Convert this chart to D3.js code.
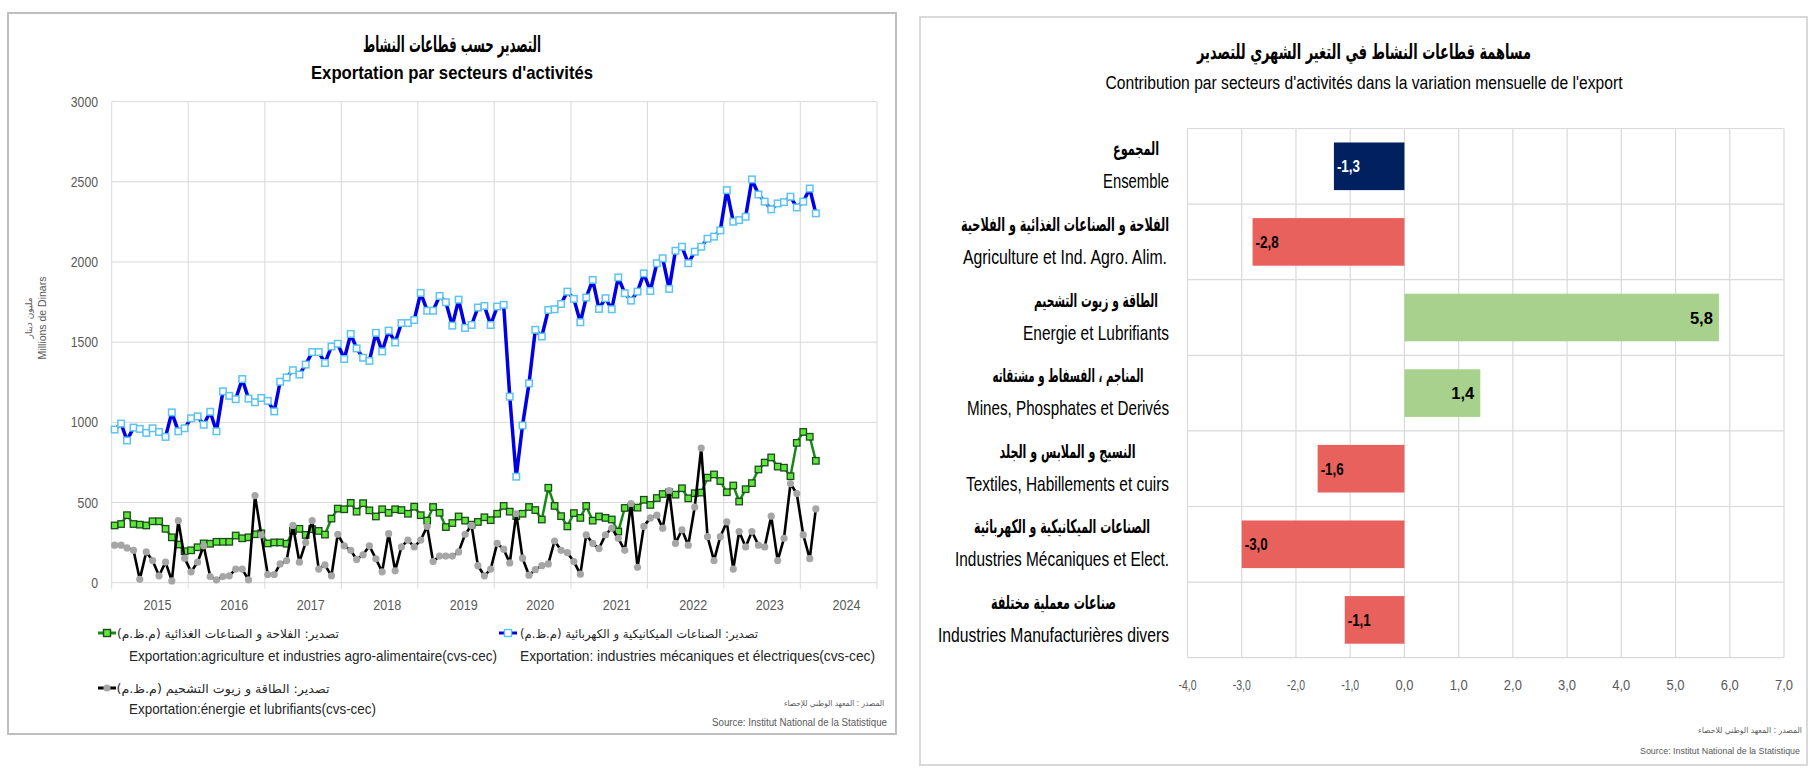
<!DOCTYPE html>
<html><head><meta charset="utf-8">
<script src="https://cdn.jsdelivr.net/npm/d3@7"></script>
<style>body{margin:0;background:#fff;} svg{display:block;}</style>
</head><body>
<svg id="c" width="1814" height="769"></svg>
<script>
// ---------------- DATA ----------------
// monthly categories: Jan 2015 .. Mar 2024
const months = d3.timeMonth.range(new Date(2015, 0, 1), new Date(2024, 3, 1));
// Exportation: industries mécaniques et électriques (cvs-cec), MD
const mecElec = [
  955, 992, 887, 967, 959, 934, 963, 940, 909, 1062, 944, 963,
  1025, 1037, 985, 1066, 944, 1193, 1165, 1144, 1270, 1148, 1125, 1152,
  1134, 1068, 1253, 1280, 1325, 1298, 1360, 1438, 1438, 1370, 1473, 1490,
  1395, 1551, 1461, 1403, 1383, 1558, 1442, 1572, 1498, 1619, 1619, 1638,
  1807, 1696, 1696, 1788, 1749, 1603, 1765, 1589, 1607, 1716, 1726, 1607,
  1722, 1733, 1160, 661, 981, 1243, 1577, 1535, 1701, 1705, 1738, 1815,
  1770, 1624, 1778, 1888, 1707, 1774, 1705, 1904, 1805, 1759, 1815, 1929,
  1819, 1992, 2023, 1832, 2070, 2095, 1992, 2064, 2095, 2145, 2158, 2197,
  2448, 2251, 2261, 2282, 2515, 2421, 2376, 2328, 2365, 2373, 2407, 2340,
  2376, 2458, 2303
];
// Exportation: agriculture et industries agro-alimentaires (cvs-cec)
const agri = [
  357, 366, 421, 366, 362, 357, 383, 383, 336, 283, 238, 196,
  202, 221, 245, 243, 255, 255, 255, 294, 277, 283, 302, 308,
  245, 251, 251, 243, 323, 336, 298, 334, 323, 300, 400, 462,
  458, 498, 443, 496, 451, 413, 458, 436, 458, 453, 430, 474,
  421, 387, 472, 436, 347, 372, 413, 387, 362, 379, 408, 390,
  430, 479, 443, 415, 430, 472, 453, 394, 592, 479, 415, 351,
  434, 404, 479, 387, 413, 404, 394, 319, 466, 472, 468, 517,
  485, 528, 553, 564, 549, 589, 526, 558, 562, 655, 675, 634,
  564, 606, 506, 583, 621, 706, 749, 781, 724, 717, 664, 872,
  940, 910, 760
];
// Exportation: énergie et lubrifiants (cvs-cec)
const energie = [
  234, 234, 217, 202, 21, 192, 138, 43, 128, 11, 387, 153,
  68, 128, 230, 38, 17, 38, 43, 85, 85, 17, 543, 298,
  51, 51, 117, 138, 357, 128, 251, 387, 85, 111, 43, 302,
  230, 202, 145, 174, 230, 149, 68, 306, 74, 223, 266, 223,
  266, 351, 132, 166, 166, 166, 192, 302, 357, 106, 43, 85,
  245, 209, 123, 430, 153, 47, 81, 106, 117, 260, 202, 187,
  132, 53, 298, 245, 213, 298, 340, 277, 202, 494, 96, 351,
  404, 421, 340, 575, 245, 330, 234, 472, 840, 287, 138, 287,
  379, 85, 319, 223, 319, 234, 223, 415, 138, 277, 618, 556,
  298, 150, 460
];
const yTicksLeft = [0, 500, 1000, 1500, 2000, 2500, 3000];
const yearLabels = [2015, 2016, 2017, 2018, 2019, 2020, 2021, 2022, 2023, 2024];

// right chart
const catAr = ["المجموع", "الفلاحة و الصناعات الغذائية و الفلاحية", "الطاقة و زيوت التشحيم",
  "المناجم ، الفسفاط و مشتقاته", "النسيج و الملابس و الجلد", "الصناعات الميكانيكية و الكهربائية",
  "صناعات معملية مختلفة"];
const catFr = ["Ensemble", "Agriculture et Ind. Agro. Alim.", "Energie et Lubrifiants",
  "Mines, Phosphates et Derivés", "Textiles, Habillements et cuirs", "Industries Mécaniques et Elect.",
  "Industries Manufacturières divers"];
const contrib = [-1.3, -2.8, 5.8, 1.4, -1.6, -3.0, -1.1];
const contribTicks = [-4, -3, -2, -1, 0, 1, 2, 3, 4, 5, 6, 7];

// ---------------- LAYOUT / STYLE ----------------
const LAT = "'Liberation Sans', Arial, sans-serif";
const AR = "'DejaVu Sans', sans-serif";
const frWidths = [66, 204, 146, 202, 203, 214, 231];
const arWidths = [46, 208, 124, 151, 136, 176, 125];

const svg = d3.select('#c');

function T(g, o) {
  const t = g.append('text').attr('x', o.x).attr('y', o.y).text(o.text)
    .attr('font-family', o.family || LAT).attr('font-size', o.size)
    .attr('font-weight', o.weight || 'normal').attr('fill', o.fill || '#000')
    .attr('text-anchor', o.anchor || 'start');
  if (o.dir) t.attr('direction', o.dir);
  if (o.w) t.attr('textLength', o.w).attr('lengthAdjust', 'spacingAndGlyphs');
  if (o.tr) t.attr('transform', o.tr);
  return t;
}

// ================= LEFT PANEL =================
const L = svg.append('g');
L.append('rect').attr('x', 8).attr('y', 13).attr('width', 888).attr('height', 721)
  .attr('fill', '#fff').attr('stroke', '#bfbfbf').attr('stroke-width', 2);

T(L, {x: 452, y: 52, text: "التصدير حسب قطاعات النشاط", size: 22, weight: 'bold', family: AR, anchor: 'middle', dir: 'rtl', w: 178});
T(L, {x: 452, y: 79, text: "Exportation  par secteurs d'activités", size: 19, weight: 'bold', anchor: 'middle', w: 282});

const xL = d3.scaleTime().domain([new Date(2015, 0, 1), new Date(2025, 0, 1)]).range([111.7, 877]);
const yL = d3.scaleLinear().domain([0, 3000]).range([582.7, 101.6]);
const yearStarts = d3.range(2015, 2026).map(y => new Date(y, 0, 1));

const grid = L.append('g').attr('stroke', '#d9d9d9').attr('stroke-width', 1);
grid.selectAll('.h').data(yTicksLeft).join('line')
  .attr('x1', xL.range()[0]).attr('x2', xL.range()[1])
  .attr('y1', d => yL(d)).attr('y2', d => yL(d));
grid.selectAll('.v').data(yearStarts).join('line')
  .attr('x1', d => xL(d)).attr('x2', d => xL(d))
  .attr('y1', yL(3000)).attr('y2', yL(0) + 6);

L.selectAll('.yl').data(yTicksLeft).join('text')
  .attr('x', 98).attr('y', d => yL(d) + 5).attr('text-anchor', 'end')
  .attr('font-family', LAT).attr('font-size', 14).attr('fill', '#595959')
  .attr('textLength', d => String(d).length * 6.8).attr('lengthAdjust', 'spacingAndGlyphs')
  .text(d => d);

L.selectAll('.xl').data(yearLabels).join('text')
  .attr('x', d => xL(new Date(d, 7, 8))).attr('y', 610).attr('text-anchor', 'middle')
  .attr('font-family', LAT).attr('font-size', 14).attr('fill', '#595959')
  .attr('textLength', 28).attr('lengthAdjust', 'spacingAndGlyphs')
  .text(d => d);

// y axis title
T(L, {x: 0, y: 0, text: "مليون دينار", size: 9, family: AR, anchor: 'middle', dir: 'rtl', fill: '#595959', tr: 'translate(32,318) rotate(-90)'});
T(L, {x: 0, y: 0, text: "Millions de Dinars", size: 10.5, anchor: 'middle', fill: '#595959', tr: 'translate(46,318) rotate(-90)'});

const mid = d => d3.timeDay.offset(d, 14);
const px = (d, i) => xL(mid(months[i]));

const lineGen = d3.line().x(px).y(d => yL(d));

function series(data, color, lw, marker) {
  const g = L.append('g');
  g.append('path').datum(data).attr('d', lineGen).attr('fill', 'none')
    .attr('stroke', color).attr('stroke-width', lw).attr('stroke-linejoin', 'round');
  marker(g.selectAll('.m').data(data).join(marker.tag), px);
}
function sqMarker(fill, stroke, sw, s) {
  const f = (sel, xf) => sel.attr('x', (d, i) => xf(d, i) - s / 2).attr('y', d => yL(d) - s / 2)
    .attr('width', s).attr('height', s).attr('fill', fill).attr('stroke', stroke).attr('stroke-width', sw);
  f.tag = 'rect';
  return f;
}
function circMarker(fill, r) {
  const f = (sel, xf) => sel.attr('cx', (d, i) => xf(d, i)).attr('cy', d => yL(d)).attr('r', r).attr('fill', fill);
  f.tag = 'circle';
  return f;
}
const agriColor = '#148a14', mecColor = '#0000e8', enColor = '#000000';
const agriMk = sqMarker('#5ee63c', '#1c4a1c', 1.3, 6.5);
const mecMk = sqMarker('#ffffff', '#5cc3f2', 1.5, 6.5);
const enMk = circMarker('#a6a6a6', 3.6);
series(agri, agriColor, 2.5, agriMk);
series(mecElec, mecColor, 3.5, mecMk);
series(energie, enColor, 2.6, enMk);

// legend
function legSym(x, y, color, lw, mk) {
  L.append('line').attr('x1', x - 9).attr('x2', x + 9).attr('y1', y).attr('y2', y)
    .attr('stroke', color).attr('stroke-width', lw);
  const g = L.append('g');
  const sel = g.selectAll('.k').data([0]).join(mk.tag);
  if (mk.tag === 'rect') sel.attr('x', x - 3.5).attr('y', y - 3.5).attr('width', 7).attr('height', 7)
    .attr('fill', mk === agriMk ? '#5ee63c' : '#fff').attr('stroke', mk === agriMk ? '#1c4a1c' : '#5cc3f2').attr('stroke-width', 1.4);
  else sel.attr('cx', x).attr('cy', y).attr('r', 3.6).attr('fill', '#a6a6a6');
}
legSym(107, 633, agriColor, 3, agriMk);
T(L, {x: 228, y: 638, text: "تصدير: الفلاحة و الصناعات الغذائية  (م.ظ.م)", size: 12, family: AR, anchor: 'middle', dir: 'rtl', w: 222, fill: '#262626'});
T(L, {x: 129, y: 661, text: "Exportation:agriculture et industries agro-alimentaire(cvs-cec)", size: 15, w: 368, fill: '#262626'});
legSym(508, 633, mecColor, 3, mecMk);
T(L, {x: 639, y: 638, text: "تصدير: الصناعات الميكانيكية و الكهربائية (م.ظ.م)", size: 12, family: AR, anchor: 'middle', dir: 'rtl', w: 238, fill: '#262626'});
T(L, {x: 520, y: 661, text: "Exportation: industries mécaniques et électriques(cvs-cec)", size: 15, w: 355, fill: '#262626'});
legSym(107, 688, enColor, 3, enMk);
T(L, {x: 223, y: 693, text: "تصدير: الطاقة و زيوت التشحيم (م.ظ.م)", size: 12, family: AR, anchor: 'middle', dir: 'rtl', w: 213, fill: '#262626'});
T(L, {x: 129, y: 714, text: "Exportation:énergie et lubrifiants(cvs-cec)", size: 15, w: 247, fill: '#262626'});

T(L, {x: 834, y: 706, text: "المصدر : المعهد الوطني للإحصاء", size: 8, family: AR, anchor: 'middle', dir: 'rtl', w: 100, fill: '#595959'});
T(L, {x: 712, y: 726, text: "Source: Institut National de la Statistique", size: 10, anchor: 'start', w: 175, fill: '#595959'});

// ================= RIGHT PANEL =================
const R = svg.append('g');
R.append('rect').attr('x', 920).attr('y', 17).attr('width', 887).attr('height', 748)
  .attr('fill', '#fff').attr('stroke', '#d9d9d9').attr('stroke-width', 2);

T(R, {x: 1364, y: 59, text: "مساهمة قطاعات النشاط في التغير الشهري للتصدير", size: 21, weight: 'bold', family: AR, anchor: 'middle', dir: 'rtl', w: 334});
T(R, {x: 1364, y: 89, text: "Contribution par secteurs d'activités dans la variation mensuelle de l'export", size: 18, anchor: 'middle', w: 517});

const xR = d3.scaleLinear().domain([-4, 7]).range([1187.5, 1784]);
const yR = d3.scaleBand().domain(d3.range(catFr.length)).range([128.5, 657.7]);
const bw = yR.bandwidth();

const gridR = R.append('g').attr('stroke', '#d9d9d9').attr('stroke-width', 1.2);
gridR.selectAll('.v').data(contribTicks).join('line')
  .attr('x1', d => xR(d)).attr('x2', d => xR(d)).attr('y1', yR.range()[0]).attr('y2', yR.range()[1]);
gridR.selectAll('.h').data(d3.range(catFr.length + 1)).join('line')
  .attr('x1', xR(-4)).attr('x2', xR(7))
  .attr('y1', i => yR.range()[0] + i * bw).attr('y2', i => yR.range()[0] + i * bw);

const fmt = d3.formatLocale({decimal: ",", thousands: " ", grouping: [3], currency: ["", ""], minus: "-"}).format(".1f");

const barH = bw * 0.63;
const barColor = (d, i) => i === 0 ? '#002060' : (d < 0 ? '#e8615c' : '#a9d18e');
R.selectAll('.bar').data(contrib).join('rect')
  .attr('x', d => xR(Math.min(0, d))).attr('width', d => Math.abs(xR(d) - xR(0)))
  .attr('y', (d, i) => yR(i) + (bw - barH) / 2).attr('height', barH)
  .attr('fill', barColor);

R.selectAll('.vl').data(contrib).join('text')
  .attr('x', d => d < 0 ? xR(d) + 3 : xR(d) - 6)
  .attr('y', (d, i) => yR(i) + bw / 2 + 6)
  .attr('text-anchor', d => d < 0 ? 'start' : 'end')
  .attr('font-family', LAT).attr('font-size', 17).attr('font-weight', 'bold')
  .attr('fill', (d, i) => i === 0 ? '#ffffff' : '#000')
  .attr('textLength', 23).attr('lengthAdjust', 'spacingAndGlyphs')
  .text(d => fmt(d));

// category labels
const labRight = 1169;
catFr.forEach((fr, i) => {
  const c = yR(i) + bw / 2;
  const blockW = Math.max(frWidths[i], arWidths[i]);
  const cx = labRight - blockW / 2;
  T(R, {x: cx, y: c - 11, text: catAr[i], size: 19, weight: 'bold', family: AR, anchor: 'middle', dir: 'rtl', w: arWidths[i]});
  T(R, {x: cx, y: c + 22, text: fr, size: 21, anchor: 'middle', w: frWidths[i]});
});

R.selectAll('.xr').data(contribTicks).join('text')
  .attr('x', d => xR(d)).attr('y', 690).attr('text-anchor', 'middle')
  .attr('font-family', LAT).attr('font-size', 14).attr('fill', '#595959')
  .attr('textLength', 18).attr('lengthAdjust', 'spacingAndGlyphs')
  .text(d => fmt(d));

T(R, {x: 1750, y: 733, text: "المصدر : المعهد الوطني للاحصاء", size: 8, family: AR, anchor: 'middle', dir: 'rtl', w: 104, fill: '#595959'});
T(R, {x: 1640, y: 754, text: "Source: Institut National de la Statistique", size: 9.5, anchor: 'start', w: 160, fill: '#595959'});
</script>
</body></html>
